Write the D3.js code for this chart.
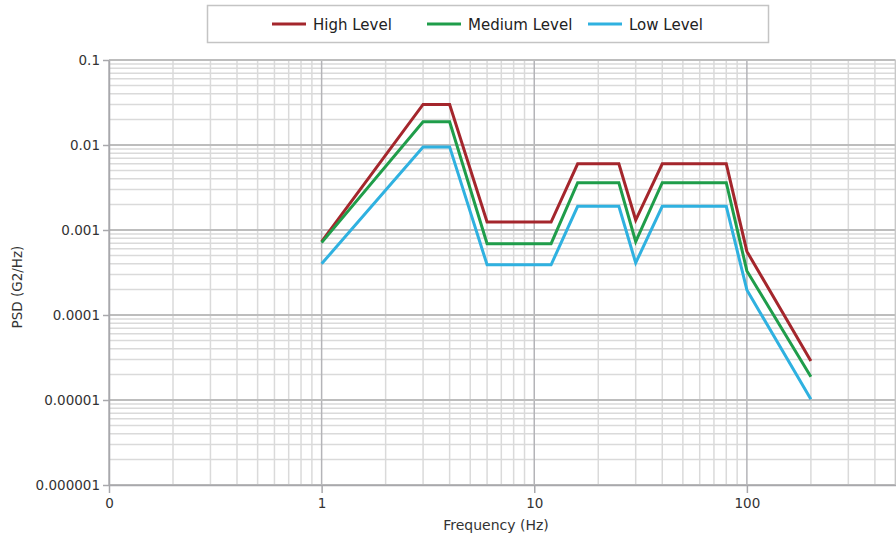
<!DOCTYPE html>
<html>
<head>
<meta charset="utf-8">
<script src="https://cdn.jsdelivr.net/npm/d3@7"></script>
<style>
  html, body { margin: 0; padding: 0; background: #fff; }
  svg { display: block; font-family: "DejaVu Sans", Verdana, sans-serif; }
</style>
</head>
<body>
<svg id="chart" width="896" height="539"></svg>
<script>
// ---- data ----
const frequencies = [1, 3, 4, 6, 12, 16, 25, 30, 40, 80, 100, 200];
const highLevel   = [0.00073, 0.030, 0.030, 0.00124, 0.00124, 0.0060, 0.0060, 0.00131, 0.0060, 0.0060, 0.00056, 0.0000288];
const mediumLevel = [0.00071, 0.0188, 0.0188, 0.00069, 0.00069, 0.0036, 0.0036, 0.00073, 0.0036, 0.0036, 0.00033, 0.0000188];
const lowLevel    = [0.00040, 0.0095, 0.0095, 0.00039, 0.00039, 0.0019, 0.0019, 0.00041, 0.0019, 0.0019, 0.000197, 0.0000102];
const seriesNames = ["High Level", "Medium Level", "Low Level"];
const seriesColors = ["#a4262c", "#1f9d4a", "#2fb1e0"];
const xTickValues = [0.1, 1, 10, 100];
const xTickLabels = ["0", "1", "10", "100"];
const yTickValues = [0.1, 0.01, 0.001, 0.0001, 0.00001, 0.000001];
const yTickLabels = ["0.1", "0.01", "0.001", "0.0001", "0.00001", "0.000001"];
const xDomain = [0.1, 500];
const yDomain = [0.000001, 0.1];

const seriesValues = [highLevel, mediumLevel, lowLevel];

const svg = d3.select("#chart");
const pLeft = 109, pRight = 895.5, pTop = 60, pBottom = 485;

const x = d3.scaleLog().domain(xDomain).range([pLeft, pRight]);
const y = d3.scaleLog().domain(yDomain).range([pBottom, pTop]);

// minor grid values
const xMinor = [], yMinor = [];
for (let e = -1; e <= 2; e++) for (let k = 2; k <= 9; k++) {
  const v = k * Math.pow(10, e);
  if (v <= xDomain[1] + 1e-9) xMinor.push(v);
}
for (let e = -6; e <= -2; e++) for (let k = 2; k <= 9; k++) yMinor.push(k * Math.pow(10, e));

const grid = svg.append("g");
grid.selectAll(".xmin").data(xMinor).join("line")
  .attr("x1", d => x(d)).attr("x2", d => x(d))
  .attr("y1", pTop).attr("y2", pBottom)
  .attr("stroke", "#dadada").attr("stroke-width", 1.5);
grid.selectAll(".ymin").data(yMinor).join("line")
  .attr("y1", d => y(d)).attr("y2", d => y(d))
  .attr("x1", pLeft).attr("x2", pRight)
  .attr("stroke", "#dadada").attr("stroke-width", 1.5);
grid.selectAll(".xmaj").data(xTickValues).join("line")
  .attr("x1", d => x(d)).attr("x2", d => x(d))
  .attr("y1", pTop).attr("y2", pBottom)
  .attr("stroke", "#b4b4b8").attr("stroke-width", 1.5);
grid.selectAll(".ymaj").data(yTickValues).join("line")
  .attr("y1", d => y(d)).attr("y2", d => y(d))
  .attr("x1", pLeft).attr("x2", pRight)
  .attr("stroke", "#bdbdbd").attr("stroke-width", 2);
grid.append("line").attr("x1", pRight).attr("x2", pRight).attr("y1", pTop).attr("y2", pBottom)
  .attr("stroke", "#c8c8c8").attr("stroke-width", 1.5);

// axes
const xAxis = d3.axisBottom(x).tickValues(xTickValues)
  .tickFormat((d, i) => xTickLabels[i]).tickSize(8).tickSizeOuter(0).tickPadding(5);
const gx = svg.append("g").attr("transform", `translate(0,${pBottom})`).call(xAxis);
const yAxis = d3.axisLeft(y).tickValues(yTickValues)
  .tickFormat((d, i) => yTickLabels[i]).tickSize(6).tickSizeOuter(0).tickPadding(3);
const gy = svg.append("g").attr("transform", `translate(${pLeft},0)`).call(yAxis);
[gx, gy].forEach(g => {
  g.select(".domain").attr("stroke", "#a8a8ac").attr("stroke-width", 1.5);
  g.selectAll(".tick line").attr("stroke", "#a8a8ac").attr("stroke-width", 1.5);
  g.selectAll(".tick text").attr("fill", "#333").style("font-size", "13.5px")
    .style("font-family", "'DejaVu Sans', Verdana, sans-serif");
});

// axis titles
svg.append("text").attr("x", 496).attr("y", 530)
  .attr("text-anchor", "middle").attr("fill", "#333").style("font-size", "14px")
  .text("Frequency (Hz)");
svg.append("text").attr("transform", "translate(22,287) rotate(-90)")
  .attr("text-anchor", "middle").attr("fill", "#333").style("font-size", "13.5px")
  .text("PSD (G2/Hz)");

// lines
const line = d3.line().x((d, i) => x(frequencies[i])).y(d => y(d));
svg.append("g").selectAll("path").data(seriesValues).join("path")
  .attr("d", d => line(d))
  .attr("fill", "none")
  .attr("stroke", (d, i) => seriesColors[i])
  .attr("stroke-width", 3)
  .attr("stroke-linejoin", "miter");

// legend
const lg = svg.append("g");
lg.append("rect").attr("x", 207.5).attr("y", 5.5).attr("width", 561).attr("height", 37)
  .attr("fill", "#fff").attr("stroke", "#c4c4c4").attr("stroke-width", 1.5);
const legendX = [272, 427, 588];
seriesNames.forEach((name, i) => {
  lg.append("line").attr("x1", legendX[i]).attr("x2", legendX[i] + 34)
    .attr("y1", 24).attr("y2", 24)
    .attr("stroke", seriesColors[i]).attr("stroke-width", 3);
  lg.append("text").attr("x", legendX[i] + 41).attr("y", 29.5)
    .attr("fill", "#222").style("font-size", "15px").text(name);
});
</script>
</body>
</html>
